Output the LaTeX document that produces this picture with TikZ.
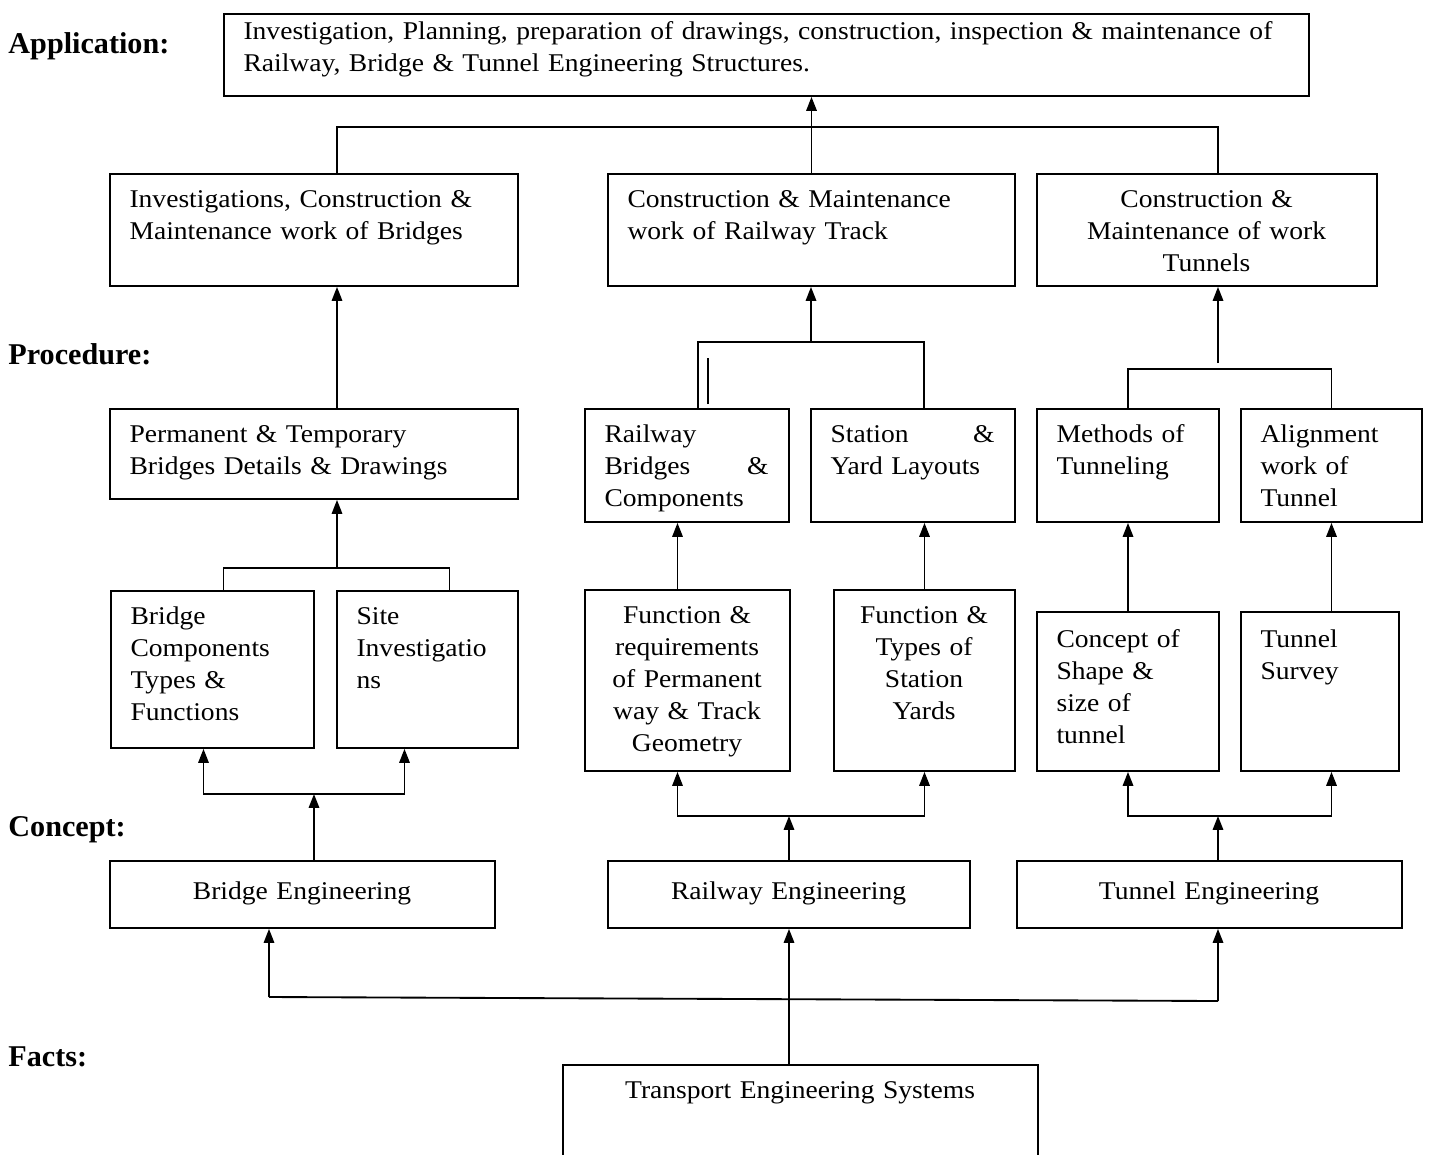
\documentclass[tikz,border=0pt]{standalone}
\usepackage{fontspec}
\setmainfont{Liberation Serif}[FakeStretch=1.08]
\newfontfamily\headfont{Liberation Serif}
\usetikzlibrary{arrows.meta,fit}
\newlength\pxu
\setlength\pxu{0.431pt}

\begin{document}
\begin{tikzpicture}[x=\pxu,y=-\pxu,
  box/.style={draw, line width=0.8pt, inner sep=0pt, fit={#1}},
  txt/.style={anchor=north west, inner sep=0pt, align=left, xshift=20\pxu, yshift=-5pt, font=\fontsize{11}{13.8}\selectfont},
  ctxt/.style={txt, align=center},
  head/.style={anchor=base west, inner sep=0pt, font=\headfont\fontsize{13}{15}\selectfont\bfseries},
  link/.style={line width=0.8pt},
  arr/.style={line width=0.8pt, -{Triangle[length=6pt,width=4.5pt]}}]
\useasboundingbox (0,0) rectangle (1430,1154);

\node[head] (happ) at (8,53) {Application:};
\node[head] (hproc) at (8,364) {Procedure:};
\node[head] (hcon) at (8,836) {Concept:};
\node[head] (hfact) at (8,1066) {Facts:};

\node[box={(224,14)(1309,96)}] (top) {};
\node[txt, text width=1046\pxu, yshift=3.4pt] (topt) at (top.north west) {\strut\makebox[\hsize][s]{Investigation, Planning, preparation of drawings, construction, inspection \& maintenance of}\\Railway, Bridge \& Tunnel Engineering Structures.};

\node[box={(110,174)(518,286)}] (b1) {};
\node[txt, text width=368\pxu] (b1t) at (b1.north west) {\strut Investigations, Construction \&\\Maintenance work of Bridges};
\node[box={(608,174)(1015,286)}] (b2) {};
\node[txt, text width=367\pxu] (b2t) at (b2.north west) {\strut Construction \& Maintenance\\work of Railway Track};
\node[box={(1037,174)(1377,286)}] (b3) {};
\node[ctxt, text width=300\pxu] (b3t) at (b3.north west) {\strut Construction \&\\Maintenance of work\\Tunnels};

\node[box={(110,409)(518,499)}] (p1) {};
\node[txt, text width=368\pxu] (p1t) at (p1.north west) {\strut Permanent \& Temporary\\Bridges Details \& Drawings};
\node[box={(585,409)(789,522)}] (p2) {};
\node[txt, text width=164\pxu] (p2t) at (p2.north west) {\strut Railway\\Bridges\hfill\&\\Components};
\node[box={(811,409)(1015,522)}] (p3) {};
\node[txt, text width=164\pxu] (p3t) at (p3.north west) {\strut Station\hfill\&\\Yard Layouts};
\node[box={(1037,409)(1219,522)}] (p4) {};
\node[txt, text width=142\pxu] (p4t) at (p4.north west) {\strut Methods of\\Tunneling};
\node[box={(1241,409)(1422,522)}] (p5) {};
\node[txt, text width=141\pxu] (p5t) at (p5.north west) {\strut Alignment\\work of\\Tunnel};

\node[box={(111,591)(314,748)}] (c1) {};
\node[txt, text width=163\pxu] (c1t) at (c1.north west) {\strut Bridge\\Components\\Types \&\\Functions};
\node[box={(337,591)(518,748)}] (c2) {};
\node[txt, text width=141\pxu] (c2t) at (c2.north west) {\strut Site\\Investigatio\\ns};
\node[box={(585,590)(790,771)}] (c3) {};
\node[ctxt, text width=165\pxu] (c3t) at (c3.north west) {\strut Function \&\\requirements\\of Permanent\\way \& Track\\Geometry};
\node[box={(834,590)(1015,771)}] (c4) {};
\node[ctxt, text width=141\pxu] (c4t) at (c4.north west) {\strut Function \&\\Types of\\Station\\Yards};
\node[box={(1037,612)(1219,771)}] (c5) {};
\node[txt, text width=142\pxu, yshift=-1pt] (c5t) at (c5.north west) {\strut Concept of\\Shape \&\\size of\\tunnel};
\node[box={(1241,612)(1399,771)}] (c6) {};
\node[txt, text width=118\pxu, yshift=-1pt] (c6t) at (c6.north west) {\strut Tunnel\\Survey};

\node[box={(110,861)(495,928)}] (e1) {};
\node[ctxt, text width=345\pxu, yshift=-2pt] (e1t) at (e1.north west) {\strut Bridge Engineering};
\node[box={(608,861)(970,928)}] (e2) {};
\node[ctxt, text width=322\pxu, yshift=-2pt] (e2t) at (e2.north west) {\strut Railway Engineering};
\node[box={(1017,861)(1402,928)}] (e3) {};
\node[ctxt, text width=345\pxu, yshift=-2pt] (e3t) at (e3.north west) {\strut Tunnel Engineering};

\node[box={(563,1065)(1038,1180)}] (f) {};
\node[ctxt, text width=435\pxu] (ft) at (f.north west) {\strut Transport Engineering Systems};

\coordinate (jtop) at (811,127);
\coordinate (jrail) at (811,342);
\coordinate (jtun) at (1218,369);
\coordinate (jbr) at (337,568);
\coordinate (jbe) at (314,794);
\coordinate (jre) at (789,816);
\coordinate (jte) at (1218,816);
\coordinate (jfl) at (269,997);
\coordinate (jfr) at (1218,1001);

\draw[arr] (b2.north) -- (b2.north |- top.south);
\draw[link] ([xshift=23\pxu]b1.north) |- (jtop) -| ([xshift=11\pxu]b3.north);

\draw[arr] ([xshift=23\pxu]p1.north) -- ([xshift=23\pxu]b1.south);
\draw[arr] (jrail) -- (jrail |- b2.south);
\draw[link] ([xshift=11\pxu]p2.north) |- (jrail) -| ([xshift=11\pxu]p3.north);
\draw[link] ([xshift=21\pxu,yshift=4\pxu]p2.north) -- ++(0,-46);
\draw[arr] ([yshift=6\pxu]jtun) -- (jtun |- b3.south);
\draw[link] (p4.north) |- (jtun) -| (p5.north);

\draw[arr] (jbr) -- (jbr |- p1.south);
\draw[link] ([xshift=11\pxu]c1.north) |- (jbr) -| ([xshift=22\pxu]c2.north);
\draw[arr] ([xshift=-10\pxu]c3.north) -- ([xshift=-10\pxu]c3.north |- p2.south);
\draw[arr] (c4.north) -- (c4.north |- p3.south);
\draw[arr] (c5.north) -- (c5.north |- p4.south);
\draw[arr] (p5.south |- c6.north) -- (p5.south);

\draw[arr] (jbe |- e1.north) -- (jbe);
\draw[arr] (jbe) -| ([xshift=-9\pxu]c1.south);
\draw[arr] (jbe) -| ([xshift=-23\pxu]c2.south);
\draw[arr] (e2.north) -- (jre);
\draw[arr] (jre) -| ([xshift=-10\pxu]c3.south);
\draw[arr] (jre) -| (c4.south);
\draw[arr] (jte |- e3.north) -- (jte);
\draw[arr] (jte) -| (c5.south);
\draw[arr] (jte) -| (p5.south |- c6.south);

\draw[arr] (e2.south |- f.north) -- (e2.south);
\draw[link] (jfl) -- (jfr);
\draw[arr] (jfl) -- (jfl |- e1.south);
\draw[arr] (jfr) -- (jfr |- e3.south);
\end{tikzpicture}
\end{document}
